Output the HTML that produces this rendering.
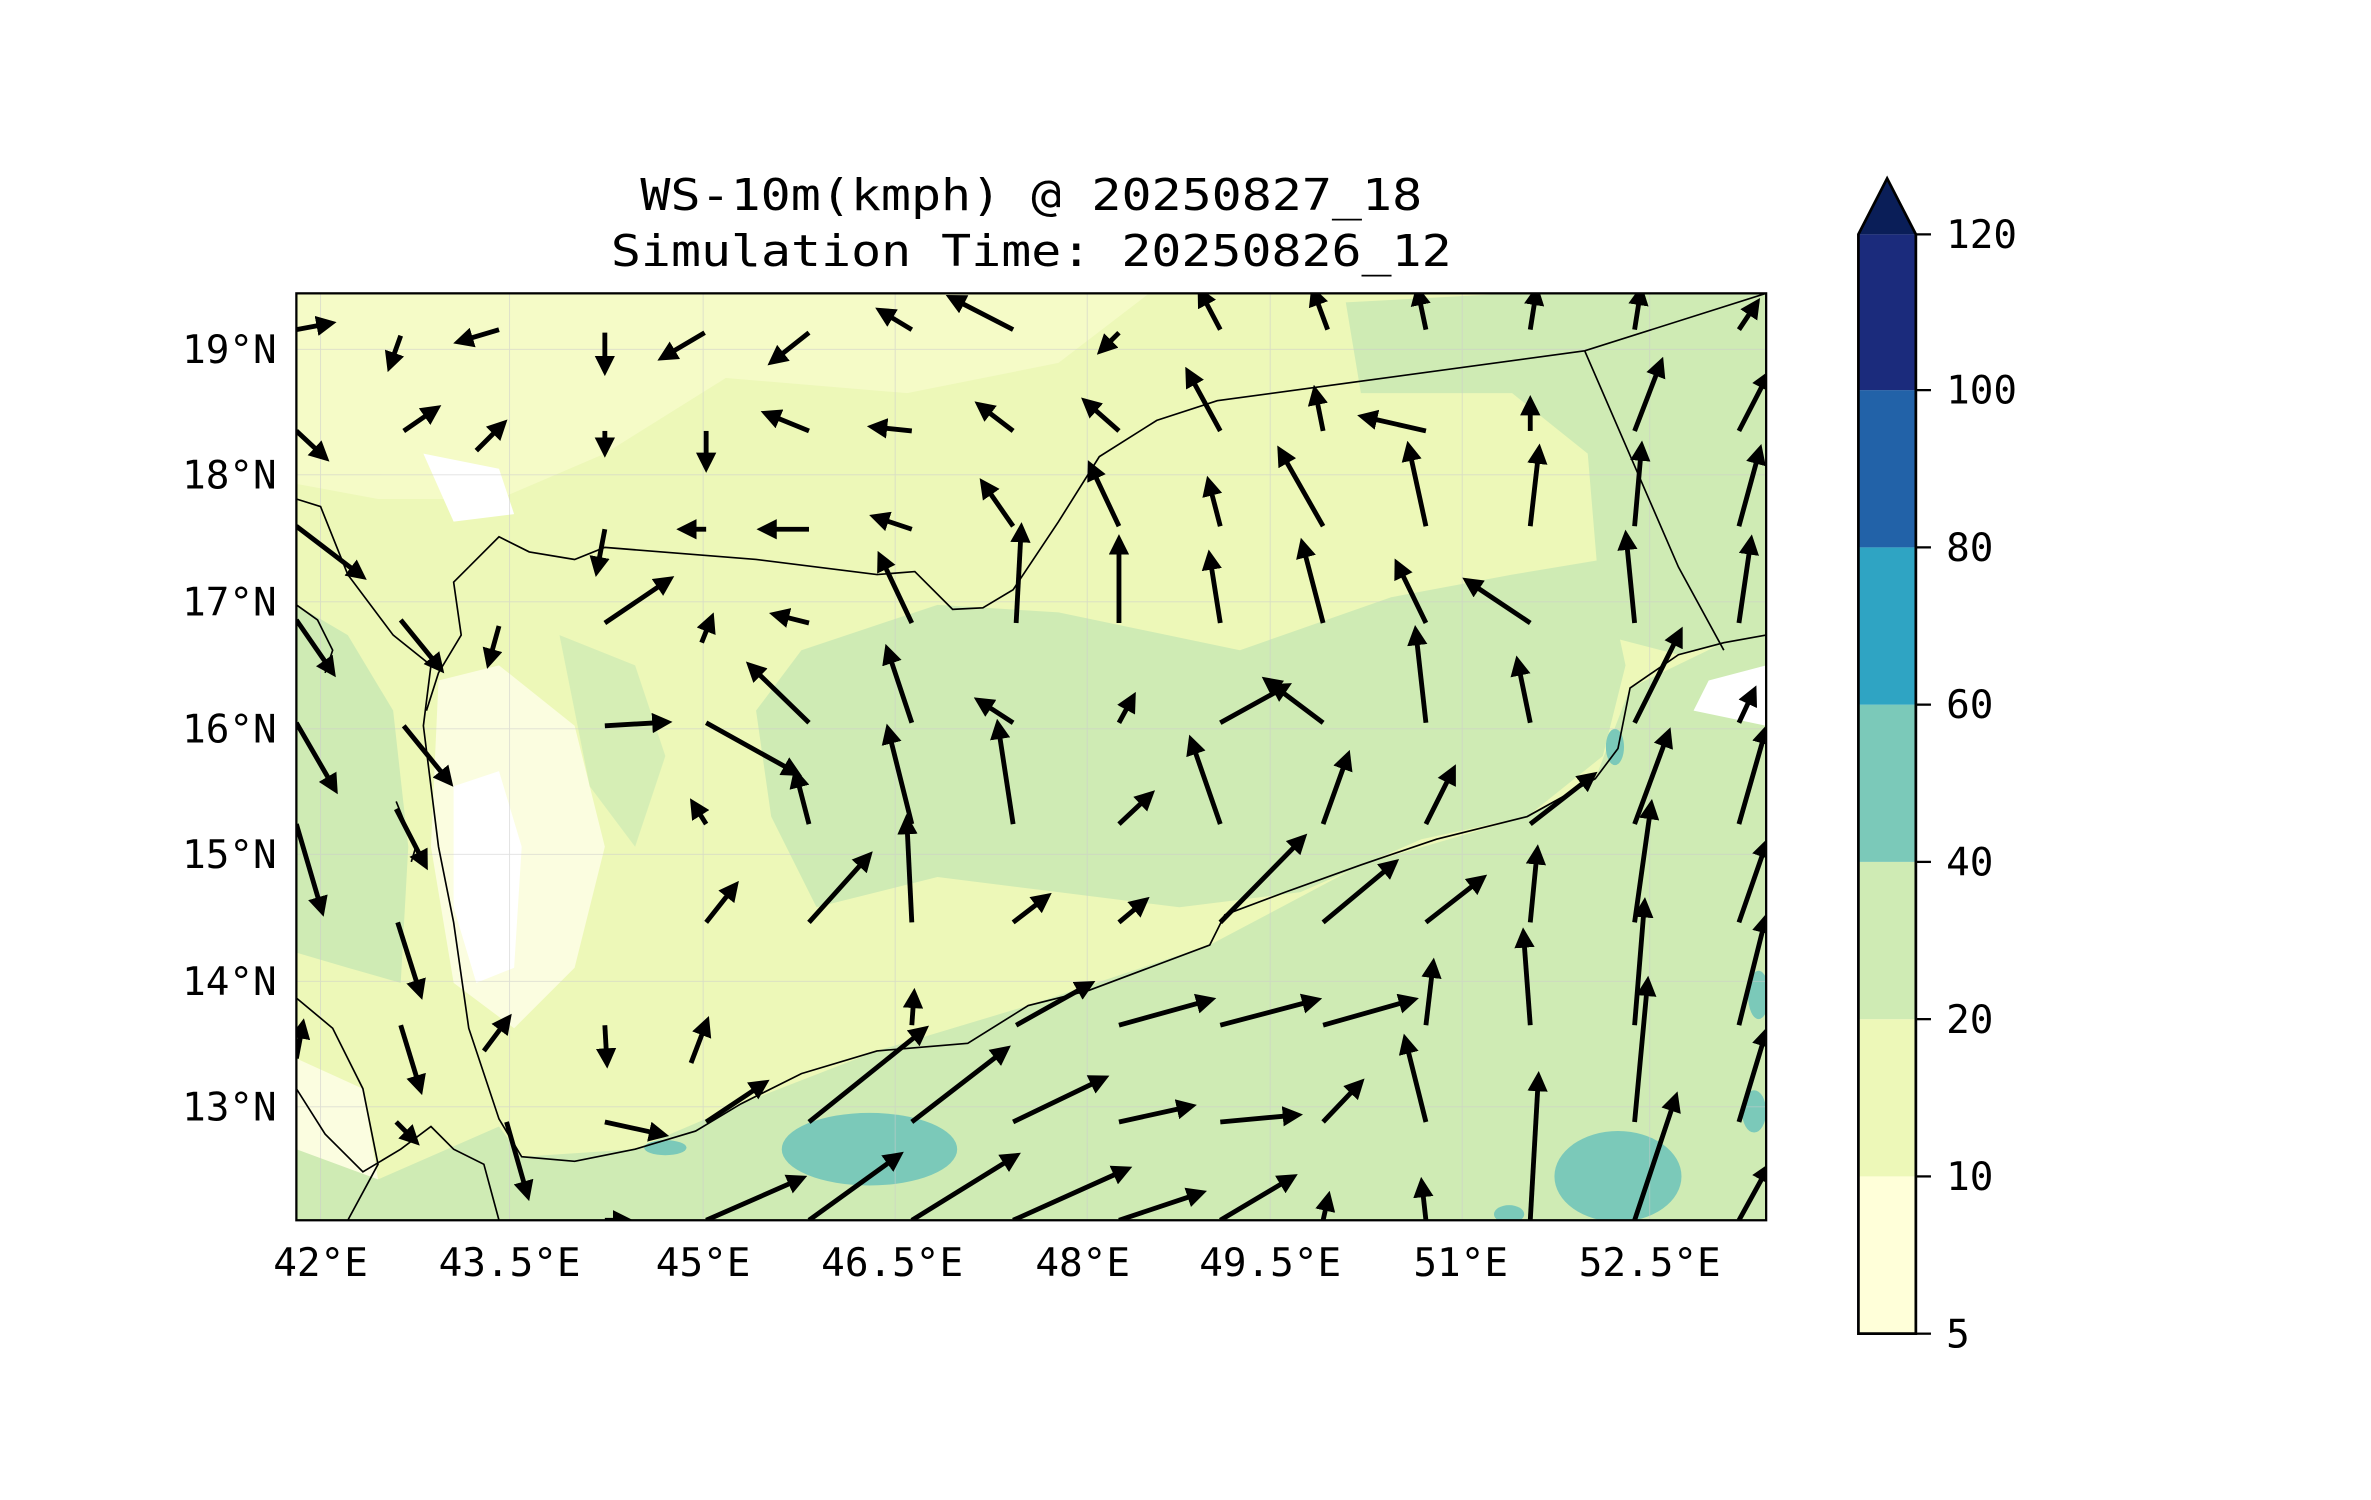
<!DOCTYPE html>
<html><head><meta charset="utf-8"><style>
html,body{margin:0;padding:0;background:#fff;}
svg{display:block;}
text{font-family:"DejaVu Sans Mono","Liberation Mono",monospace;fill:#000;}
</style></head><body>
<svg width="2371" height="1500" viewBox="0 0 1568 992" preserveAspectRatio="none" xmlns="http://www.w3.org/2000/svg">
<defs>
<clipPath id="c"><rect x="196" y="194" width="972" height="613"/></clipPath>
<marker id="a" viewBox="0 0 10 10" refX="2" refY="5" markerWidth="4.2" markerHeight="4.2" orient="auto" markerUnits="strokeWidth">
<path d="M0,0 L10,5 L0,10 z" fill="#000"/></marker>
</defs>
<text x="682" y="139" font-size="29" text-anchor="middle" textLength="517" lengthAdjust="spacingAndGlyphs">WS-10m(kmph) @ 20250827_18</text>
<text x="682" y="176" font-size="29" text-anchor="middle" textLength="556" lengthAdjust="spacingAndGlyphs">Simulation Time: 20250826_12</text>
<g clip-path="url(#c)">
<rect x="196" y="194" width="972" height="613" fill="#edf8b8"/>
<path d="M196,194 L760,194 L700,240 L600,260 L480,250 L400,300 L330,330 L250,330 L196,320 Z" fill="#f5fbc9" opacity="0.9"/>
<path d="M290,450 L330,440 L380,480 L400,560 L380,640 L340,680 L300,650 L285,560 Z" fill="#fbfde0"/>
<path d="M300,520 L330,510 L345,560 L340,640 L315,650 L300,600 Z" fill="#ffffff"/>
<path d="M280,300 L330,310 L340,340 L300,345 Z" fill="#ffffff"/>
<path d="M196,700 L240,720 L250,780 L230,807 L196,807 Z" fill="#fbfde0"/>
<path d="M196,807 L196,760 L250,780 L330,745 L345,765 L420,760 L490,730 L580,695 L680,665 L800,625 L900,572 L1010,540 L1055,515 L1078,455 L1140,425 L1168,420 L1168,807 Z" fill="#cfebb4"/>
<path d="M1168,194 L1168,420 L1110,433 L1060,420 L1050,300 L1000,260 L900,260 L890,200 L1000,194 Z" fill="#cfebb4"/>
<path d="M530,430 L620,400 L700,405 L820,430 L920,395 L1000,380 L1060,370 L1075,440 L1060,500 L1010,540 L940,555 L860,590 L780,600 L700,590 L620,580 L540,600 L510,540 L500,470 Z" fill="#cfebb4"/>
<path d="M196,400 L230,420 L260,470 L270,560 L265,650 L230,640 L196,630 Z" fill="#cfebb4"/>
<path d="M370,420 L420,440 L440,500 L420,560 L390,520 Z" fill="#cfebb4" opacity="0.8"/>
<path d="M1130,450 L1168,440 L1168,480 L1120,470 Z" fill="#ffffff"/>
<ellipse cx="575" cy="760" rx="58" ry="24" fill="#7bc9b9"/>
<ellipse cx="440" cy="759" rx="14" ry="5" fill="#7bc9b9"/>
<ellipse cx="1070" cy="778" rx="42" ry="30" fill="#7bc9b9"/>
<ellipse cx="998" cy="803" rx="10" ry="6" fill="#7bc9b9"/>
<ellipse cx="1068" cy="494" rx="6" ry="12" fill="#7bc9b9"/>
<ellipse cx="1163" cy="658" rx="7" ry="16" fill="#7bc9b9"/>
<ellipse cx="1160" cy="735" rx="8" ry="14" fill="#7bc9b9"/>
<g stroke="#ccc" stroke-width="0.6" opacity="0.6">
<line x1="212" y1="194" x2="212" y2="807"/><line x1="337" y1="194" x2="337" y2="807"/><line x1="465" y1="194" x2="465" y2="807"/><line x1="592" y1="194" x2="592" y2="807"/><line x1="719" y1="194" x2="719" y2="807"/><line x1="840" y1="194" x2="840" y2="807"/><line x1="967" y1="194" x2="967" y2="807"/><line x1="1091" y1="194" x2="1091" y2="807"/>
<line x1="196" y1="231" x2="1168" y2="231"/><line x1="196" y1="314" x2="1168" y2="314"/><line x1="196" y1="398" x2="1168" y2="398"/><line x1="196" y1="482" x2="1168" y2="482"/><line x1="196" y1="565" x2="1168" y2="565"/><line x1="196" y1="649" x2="1168" y2="649"/><line x1="196" y1="732" x2="1168" y2="732"/>
</g>
<g fill="none" stroke="#000" stroke-width="1.1">
<path d="M196,330 L212,335 L230,380 L260,420 L285,440 L280,480 L290,560 L300,610 L310,680 L330,740 L345,765 L380,768 L420,760 L460,748 L490,730 L530,710 L580,695 L640,690 L680,665 L720,655 L760,640 L800,625 L810,605 L850,590 L900,572 L950,555 L1010,540 L1055,515 L1070,495 L1078,455 L1110,433 L1140,425 L1168,420"/>
<path d="M310,375 L330,355 L350,365 L380,370 L400,362 L500,370 L580,380 L605,378 L630,403 L650,402 L670,390 L700,345 L727,302 L765,278 L805,265 L1048,232 L1168,194"/>
<path d="M1048,232 L1110,375 L1140,430"/>
<path d="M310,375 L300,385 L305,420 L290,445 L282,470"/>
<path d="M196,400 L210,410 L220,430 L215,445"/>
<path d="M196,660 L220,680 L240,720 L250,770 L230,807"/>
<path d="M196,720 L215,750 L240,775 L265,760 L285,745 L300,760 L320,770 L330,807"/>
<path d="M262,530 L268,545 L275,560 L272,570"/>
</g>
<g stroke="#000" stroke-width="3.2" marker-end="url(#a)" fill="none">
<line x1="196" y1="218" x2="212" y2="215"/><line x1="265" y1="222" x2="260" y2="236"/><line x1="330" y1="218" x2="310" y2="224"/><line x1="400" y1="220" x2="400" y2="238"/><line x1="466" y1="220" x2="444" y2="233"/><line x1="535" y1="220" x2="516" y2="235"/><line x1="603" y1="218" x2="588" y2="209"/><line x1="670" y1="218" x2="635" y2="200"/><line x1="740" y1="220" x2="733" y2="227"/><line x1="807" y1="218" x2="797" y2="199"/><line x1="878" y1="218" x2="871" y2="199"/><line x1="943" y1="218" x2="939" y2="199"/><line x1="1012" y1="218" x2="1015" y2="199"/><line x1="1081" y1="218" x2="1084" y2="199"/><line x1="1150" y1="218" x2="1158" y2="206"/>
<line x1="196" y1="285" x2="210" y2="298"/><line x1="267" y1="285" x2="283" y2="274"/><line x1="315" y1="298" x2="328" y2="285"/><line x1="400" y1="285" x2="400" y2="292"/><line x1="467" y1="285" x2="467" y2="302"/><line x1="535" y1="285" x2="513" y2="276"/><line x1="603" y1="285" x2="584" y2="283"/><line x1="670" y1="285" x2="653" y2="272"/><line x1="740" y1="285" x2="723" y2="270"/><line x1="807" y1="285" x2="789" y2="252"/><line x1="875" y1="285" x2="871" y2="265"/><line x1="943" y1="285" x2="908" y2="277"/><line x1="1012" y1="285" x2="1012" y2="272"/><line x1="1081" y1="285" x2="1096" y2="246"/><line x1="1150" y1="285" x2="1166" y2="254"/>
<line x1="400" y1="350" x2="396" y2="371"/><line x1="467" y1="350" x2="458" y2="350"/><line x1="535" y1="350" x2="511" y2="350"/><line x1="603" y1="350" x2="585" y2="344"/><line x1="670" y1="348" x2="654" y2="325"/><line x1="740" y1="348" x2="724" y2="314"/><line x1="807" y1="348" x2="801" y2="325"/><line x1="875" y1="348" x2="850" y2="304"/><line x1="943" y1="348" x2="933" y2="302"/><line x1="1012" y1="348" x2="1017" y2="304"/><line x1="1081" y1="348" x2="1085" y2="302"/><line x1="1150" y1="348" x2="1162" y2="304"/>
<line x1="196" y1="348" x2="234" y2="377"/><line x1="400" y1="412" x2="437" y2="387"/><line x1="464" y1="425" x2="468" y2="415"/><line x1="535" y1="412" x2="519" y2="408"/><line x1="603" y1="412" x2="585" y2="374"/><line x1="672" y1="412" x2="675" y2="356"/><line x1="740" y1="412" x2="740" y2="364"/><line x1="807" y1="412" x2="801" y2="374"/><line x1="875" y1="412" x2="863" y2="366"/><line x1="943" y1="412" x2="927" y2="379"/><line x1="1012" y1="412" x2="976" y2="388"/><line x1="1081" y1="412" x2="1076" y2="361"/><line x1="1150" y1="412" x2="1157" y2="364"/>
<line x1="196" y1="410" x2="216" y2="439"/><line x1="265" y1="410" x2="287" y2="437"/><line x1="330" y1="414" x2="325" y2="432"/>
<line x1="196" y1="478" x2="218" y2="516"/><line x1="267" y1="480" x2="293" y2="512"/><line x1="400" y1="480" x2="434" y2="478"/><line x1="467" y1="478" x2="521" y2="508"/><line x1="535" y1="478" x2="501" y2="445"/><line x1="603" y1="478" x2="589" y2="436"/><line x1="670" y1="478" x2="653" y2="467"/><line x1="740" y1="478" x2="746" y2="467"/><line x1="807" y1="478" x2="845" y2="457"/><line x1="875" y1="478" x2="843" y2="454"/><line x1="943" y1="478" x2="937" y2="424"/><line x1="1012" y1="478" x2="1005" y2="444"/><line x1="1081" y1="478" x2="1108" y2="424"/><line x1="1150" y1="478" x2="1157" y2="463"/>
<line x1="196" y1="545" x2="211" y2="596"/><line x1="262" y1="535" x2="278" y2="566"/><line x1="467" y1="545" x2="462" y2="537"/><line x1="535" y1="545" x2="528" y2="518"/><line x1="603" y1="545" x2="589" y2="489"/><line x1="670" y1="545" x2="661" y2="486"/><line x1="740" y1="545" x2="756" y2="530"/><line x1="807" y1="545" x2="790" y2="496"/><line x1="875" y1="545" x2="889" y2="506"/><line x1="943" y1="545" x2="958" y2="515"/><line x1="1012" y1="545" x2="1048" y2="517"/><line x1="1081" y1="545" x2="1101" y2="491"/><line x1="1150" y1="545" x2="1166" y2="489"/>
<line x1="263" y1="610" x2="276" y2="651"/><line x1="467" y1="610" x2="482" y2="591"/><line x1="535" y1="610" x2="570" y2="571"/><line x1="603" y1="610" x2="600" y2="549"/><line x1="670" y1="610" x2="687" y2="597"/><line x1="740" y1="610" x2="752" y2="600"/><line x1="807" y1="610" x2="857" y2="559"/><line x1="875" y1="610" x2="917" y2="575"/><line x1="943" y1="610" x2="975" y2="585"/><line x1="1012" y1="610" x2="1016" y2="569"/><line x1="1081" y1="610" x2="1091" y2="539"/><line x1="1150" y1="610" x2="1166" y2="564"/>
<line x1="196" y1="700" x2="199" y2="684"/><line x1="265" y1="678" x2="276" y2="714"/><line x1="320" y1="695" x2="332" y2="679"/><line x1="400" y1="678" x2="401" y2="696"/><line x1="457" y1="703" x2="465" y2="682"/><line x1="603" y1="678" x2="604" y2="664"/><line x1="672" y1="678" x2="715" y2="654"/><line x1="740" y1="678" x2="794" y2="663"/><line x1="807" y1="678" x2="864" y2="663"/><line x1="875" y1="678" x2="928" y2="663"/><line x1="943" y1="678" x2="947" y2="644"/><line x1="1012" y1="678" x2="1008" y2="624"/><line x1="1081" y1="678" x2="1087" y2="604"/><line x1="1150" y1="678" x2="1166" y2="614"/>
<line x1="262" y1="742" x2="270" y2="750"/><line x1="335" y1="742" x2="347" y2="784"/><line x1="400" y1="742" x2="432" y2="749"/><line x1="467" y1="742" x2="500" y2="720"/><line x1="535" y1="742" x2="606" y2="685"/><line x1="603" y1="742" x2="660" y2="698"/><line x1="670" y1="742" x2="724" y2="716"/><line x1="740" y1="742" x2="781" y2="733"/><line x1="807" y1="742" x2="851" y2="738"/><line x1="875" y1="742" x2="895" y2="721"/><line x1="943" y1="742" x2="931" y2="694"/><line x1="1081" y1="742" x2="1089" y2="656"/><line x1="1150" y1="742" x2="1166" y2="689"/>
<line x1="467" y1="807" x2="524" y2="782"/><line x1="535" y1="807" x2="589" y2="768"/><line x1="603" y1="807" x2="666" y2="768"/><line x1="670" y1="807" x2="739" y2="776"/><line x1="740" y1="807" x2="788" y2="791"/><line x1="807" y1="807" x2="849" y2="782"/><line x1="875" y1="807" x2="877" y2="798"/><line x1="943" y1="807" x2="941" y2="789"/><line x1="1012" y1="807" x2="1017" y2="719"/><line x1="1081" y1="807" x2="1106" y2="732"/><line x1="1150" y1="807" x2="1166" y2="778"/><line x1="400" y1="807" x2="408" y2="807"/>
</g>
</g>
<rect x="196" y="194" width="972" height="613" fill="none" stroke="#000" stroke-width="1.5"/>
<g font-size="26" text-anchor="end">
<text x="183" y="240">19°N</text><text x="183" y="323">18°N</text><text x="183" y="407">17°N</text><text x="183" y="491">16°N</text><text x="183" y="574">15°N</text><text x="183" y="658">14°N</text><text x="183" y="741">13°N</text>
</g>
<g font-size="26" text-anchor="middle">
<text x="212" y="844">42°E</text><text x="337" y="844">43.5°E</text><text x="465" y="844">45°E</text><text x="590" y="844">46.5°E</text><text x="716" y="844">48°E</text><text x="840" y="844">49.5°E</text><text x="966" y="844">51°E</text><text x="1091" y="844">52.5°E</text>
</g>
<rect x="1229" y="778" width="38" height="104" fill="#ffffd9"/>
<rect x="1229" y="674" width="38" height="104" fill="#edf8b8"/>
<rect x="1229" y="570" width="38" height="104" fill="#cfebb4"/>
<rect x="1229" y="466" width="38" height="104" fill="#7bc9b9"/>
<rect x="1229" y="362" width="38" height="104" fill="#2fa4c3"/>
<rect x="1229" y="258" width="38" height="104" fill="#2262a8"/>
<rect x="1229" y="155" width="38" height="103" fill="#1b2b7c"/>
<path d="M1229,155 L1248,118 L1267,155 Z" fill="#0a1e58"/>
<path d="M1229,882 L1229,155 L1248,118 L1267,155 L1267,882 Z" fill="none" stroke="#000" stroke-width="1.8"/>
<g stroke="#000" stroke-width="1.5">
<line x1="1267" y1="155" x2="1277" y2="155"/><line x1="1267" y1="258" x2="1277" y2="258"/><line x1="1267" y1="362" x2="1277" y2="362"/><line x1="1267" y1="466" x2="1277" y2="466"/><line x1="1267" y1="570" x2="1277" y2="570"/><line x1="1267" y1="674" x2="1277" y2="674"/><line x1="1267" y1="778" x2="1277" y2="778"/><line x1="1267" y1="882" x2="1277" y2="882"/>
</g>
<g font-size="26">
<text x="1287" y="164">120</text><text x="1287" y="267">100</text><text x="1287" y="371">80</text><text x="1287" y="475">60</text><text x="1287" y="579">40</text><text x="1287" y="683">20</text><text x="1287" y="787">10</text><text x="1287" y="891">5</text>
</g>
</svg>
</body></html>
